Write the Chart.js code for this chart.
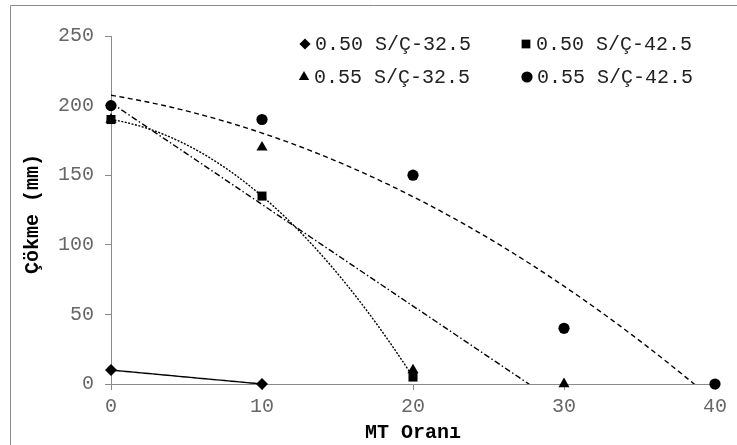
<!DOCTYPE html>
<html>
<head>
<meta charset="utf-8">
<script src="https://cdn.jsdelivr.net/npm/chart.js@4/dist/chart.umd.min.js"></script>
<style>
html,body{margin:0;padding:0;background:#fff;}
#wrap{position:relative;width:737px;height:445px;}
</style>
</head>
<body>
<div id="wrap"><canvas id="c" width="737" height="445"></canvas></div>
<script>
// ---- data ----
const mtOrani = [0, 10, 20, 30, 40];
const seriesNames = ['0.50 S/Ç-32.5', '0.50 S/Ç-42.5', '0.55 S/Ç-32.5', '0.55 S/Ç-42.5'];
const s050_325 = [10, 0];
const s050_425 = [190, 135, 5];
const s055_325 = [190, 170, 10, 0];
const s055_425 = [200, 190, 150, 40, 0];
const yTicks = [0, 50, 100, 150, 200, 250];
const xTicks = [0, 10, 20, 30, 40];
const xTitle = 'MT Oranı';
const yTitle = 'Çökme (mm)';
const trendOrders = [1, 2, 1, 2]; // linear / 2nd-order polynomial trendlines

const allSeries = [s050_325, s050_425, s055_325, s055_425];
const pointStyles = ['rectRot', 'rect', 'triangle', 'circle'];
const pointRadii = [6, 6.4, 6.4, 5.6];
const legendRadii = [5.6, 6.2, 6, 5.6];
const trendDash = [[], [2, 1.5], [6, 2.5, 1.5, 2.5], [5, 3.5]];

function polyfit(xs, ys, order) {
  const n = order + 1;
  const A = [], b = [];
  for (let i = 0; i < n; i++) {
    A.push(new Array(n).fill(0));
    b.push(0);
    for (let k = 0; k < xs.length; k++) {
      b[i] += ys[k] * Math.pow(xs[k], i);
      for (let j = 0; j < n; j++) A[i][j] += Math.pow(xs[k], i + j);
    }
  }
  for (let i = 0; i < n; i++) {
    let p = i;
    for (let r = i + 1; r < n; r++) if (Math.abs(A[r][i]) > Math.abs(A[p][i])) p = r;
    [A[i], A[p]] = [A[p], A[i]]; [b[i], b[p]] = [b[p], b[i]];
    for (let r = i + 1; r < n; r++) {
      const f = A[r][i] / A[i][i];
      for (let c = i; c < n; c++) A[r][c] -= f * A[i][c];
      b[r] -= f * b[i];
    }
  }
  const coef = new Array(n).fill(0);
  for (let i = n - 1; i >= 0; i--) {
    let s = b[i];
    for (let c = i + 1; c < n; c++) s -= A[i][c] * coef[c];
    coef[i] = s / A[i][i];
  }
  return coef;
}

const datasets = [];
allSeries.forEach((vals, i) => {
  const xs = mtOrani.slice(0, vals.length);
  datasets.push({
    label: seriesNames[i],
    data: vals.map((v, k) => ({x: xs[k], y: v})),
    showLine: false,
    pointStyle: pointStyles[i],
    pointRadius: pointRadii[i],
    pointHoverRadius: pointRadii[i],
    pointBackgroundColor: '#000',
    pointBorderColor: '#000',
    pointBorderWidth: 0,
    clip: false,
    order: 0
  });
  const coef = polyfit(xs, vals, trendOrders[i]);
  const xMin = xs[0], xMax = xs[xs.length - 1];
  const pts = [];
  for (let x = xMin; x <= xMax + 1e-9; x += 0.25) {
    let y = 0;
    coef.forEach((c, p) => { y += c * Math.pow(x, p); });
    pts.push({x: x, y: y});
  }
  datasets.push({
    label: 'trend ' + seriesNames[i],
    data: pts,
    showLine: true,
    pointRadius: 0,
    borderColor: '#000',
    borderWidth: 1.4,
    borderDash: trendDash[i],
    tension: 0,
    clip: 0,
    order: 1
  });
});

const frameAndLegend = {
  id: 'frameAndLegend',
  beforeDraw(chart) {
    const ctx = chart.ctx;
    ctx.save();
    ctx.fillStyle = '#fff';
    ctx.fillRect(0, 0, chart.width, chart.height);
    ctx.strokeStyle = '#8a8a8a';
    ctx.lineWidth = 1;
    ctx.beginPath();
    ctx.moveTo(10.5, 445);
    ctx.lineTo(10.5, 5.5);
    ctx.lineTo(737, 5.5);
    ctx.stroke();
    ctx.restore();
  },
  afterDraw(chart) {
    const ctx = chart.ctx;
    const pos = [[305, 44], [526, 44], [304, 77], [527, 77]];
    ctx.save();
    ctx.font = '20px "Liberation Mono"';
    ctx.textBaseline = 'middle';
    ctx.textAlign = 'left';
    seriesNames.forEach((name, i) => {
      ctx.fillStyle = '#000';
      Chart.helpers.drawPoint(ctx, {pointStyle: pointStyles[i], radius: legendRadii[i], rotation: 0, borderWidth: 0}, pos[i][0], pos[i][1]);
      ctx.fillStyle = '#222';
      ctx.fillText(name, pos[i][0] + 10, pos[i][1] + 1);
    });
    // y-axis title (rotated)
    ctx.translate(33, 214);
    ctx.rotate(-Math.PI / 2);
    ctx.font = 'bold 20px "Liberation Mono"';
    ctx.textAlign = 'center';
    ctx.fillStyle = '#000';
    ctx.fillText(yTitle, 0, 0);
    ctx.restore();
  }
};

new Chart(document.getElementById('c'), {
  type: 'scatter',
  data: {datasets: datasets},
  plugins: [frameAndLegend],
  options: {
    responsive: false,
    animation: false,
    events: [],
    layout: {padding: {left: 21, top: 36, right: 22, bottom: 0}},
    plugins: {legend: {display: false}, tooltip: {enabled: false}, title: {display: false}},
    scales: {
      x: {
        type: 'linear',
        min: 0, max: 40,
        afterBuildTicks(scale) { scale.ticks = xTicks.map(v => ({value: v})); },
        afterFit(scale) { scale.height = 61; },
        grid: {drawOnChartArea: false, drawTicks: true, tickLength: 6, color: '#8a8a8a', tickColor: '#8a8a8a'},
        border: {display: true, color: '#8a8a8a', width: 1},
        ticks: {font: {family: 'Liberation Mono', size: 20}, color: '#666', padding: 5, maxRotation: 0},
        title: {display: true, text: xTitle, font: {family: 'Liberation Mono', size: 20, weight: 'bold'}, color: '#000', padding: {top: 0, bottom: 0}}
      },
      y: {
        type: 'linear',
        min: 0, max: 250,
        afterBuildTicks(scale) { scale.ticks = yTicks.map(v => ({value: v})); },
        afterFit(scale) { scale.width = 90; },
        grid: {drawOnChartArea: false, drawTicks: true, tickLength: 6, color: '#8a8a8a', tickColor: '#8a8a8a'},
        border: {display: true, color: '#8a8a8a', width: 1},
        ticks: {font: {family: 'Liberation Mono', size: 20}, color: '#666', padding: 11},
        title: {display: false}
      }
    }
  }
});
</script>
</body>
</html>
